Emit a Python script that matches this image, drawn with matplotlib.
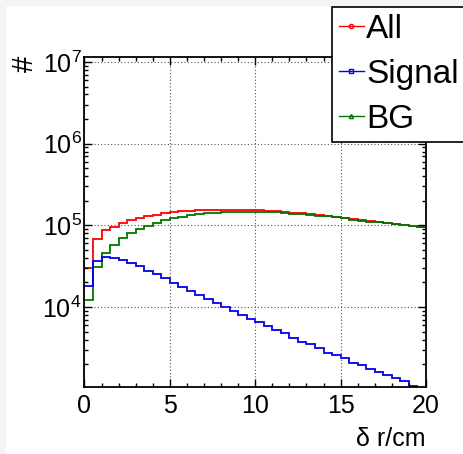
import numpy as np
import matplotlib
matplotlib.use('Agg')
import matplotlib.pyplot as plt
from matplotlib.ticker import LogLocator, MultipleLocator, NullFormatter
from matplotlib.patches import Rectangle

plt.rcParams['font.family'] = ['Liberation Sans', 'DejaVu Sans']
plt.rcParams['mathtext.fontset'] = 'custom'
plt.rcParams['mathtext.rm'] = 'Liberation Sans'

# 40 Bins zu 0.5 cm von 0 bis 20 cm
edges = np.linspace(0, 20, 41)

all_counts = [30300, 67600, 87100, 96400, 108000, 115500, 124300, 130400, 135300, 141900,
              144800, 149000, 151500, 152500, 153100, 154500, 154500, 154500, 154500, 154500,
              153100, 151400, 150000, 147100, 143100, 140700, 137900, 134100, 131400, 127800,
              124300, 119700, 116300, 113100, 110900, 107800, 104000, 101100, 98300, 96400]

signal_counts = [18100, 36900, 40600, 39500, 37700, 34400, 31800, 27900, 25200, 22500,
                 19900, 17400, 15800, 14000, 12400, 11100, 10100, 9020, 7980, 7060,
                 6610, 5850, 5220, 4760, 4130, 3760, 3490, 3120, 2750, 2580,
                 2350, 2070, 1950, 1770, 1610, 1470, 1370, 1240, 1090, 1010]

bg_counts = [12200, 30500, 46200, 57500, 70700, 81400, 90300, 98300, 108000, 116400,
             122200, 127900, 134000, 138000, 140500, 143000, 144200, 145300, 146300, 147200,
             146400, 145400, 144700, 142300, 139000, 137000, 134400, 131000, 128600, 125200,
             122000, 117600, 114300, 111300, 109300, 106300, 102600, 99900, 97200, 95400]

fig = plt.figure(figsize=(4.64, 4.54), dpi=100)
fig.patch.set_facecolor('white')
# grauer Rand links und oben
fig.patches.append(Rectangle((0, 0), 5 / 464, 1, transform=fig.transFigure,
                             color='#f4f4f4', zorder=-10))
fig.patches.append(Rectangle((0, 1 - 5 / 454), 1, 5 / 454, transform=fig.transFigure,
                             color='#f4f4f4', zorder=-10))

ax = fig.add_axes([84.5 / 464, 1 - 386.7 / 454, (426 - 84.5) / 464, (386.7 - 57.3) / 454])

ax.stairs(all_counts, edges, baseline=None, color='#ff0000', linewidth=1.3)
ax.stairs(bg_counts, edges, baseline=None, color='#007700', linewidth=1.3)
ax.stairs(signal_counts, edges, baseline=None, color='#0000ee', linewidth=1.3)

ax.set_yscale('log')
ax.set_xlim(0, 20)
ax.set_ylim(1.06e3, 1.14e7)

ax.xaxis.set_major_locator(MultipleLocator(5))
ax.xaxis.set_minor_locator(MultipleLocator(1))
ax.yaxis.set_major_locator(LogLocator(base=10, numticks=10))
ax.yaxis.set_minor_locator(LogLocator(base=10, subs=np.arange(2, 10), numticks=20))
ax.yaxis.set_minor_formatter(NullFormatter())

ax.tick_params(which='both', direction='in', top=True, right=True, labelsize=18, width=1)
ax.tick_params(which='major', length=6)
ax.tick_params(which='minor', length=3)
ax.tick_params(axis='x', pad=5)
ax.tick_params(axis='y', pad=2)
for s in ax.spines.values():
    s.set_linewidth(1.3)

ax.grid(True, which='major', color='#555555', linestyle=(0, (1, 2)), linewidth=0.8)

fig.text(25 / 464, 1 - 64 / 454, '#', fontsize=21, rotation=90, ha='center', va='center')
fig.text(426 / 464, 1 - 439 / 454, 'δ r/cm', fontsize=18, ha='right', va='center')

handles = [
    plt.Line2D([], [], color='#ff0000', marker='o', markersize=3, markerfacecolor='none', lw=1),
    plt.Line2D([], [], color='#0000ee', marker='s', markersize=3, markerfacecolor='none', lw=1),
    plt.Line2D([], [], color='#007700', marker='^', markersize=3, markerfacecolor='none', lw=1),
]
leg = fig.legend(handles, ['All', 'Signal', 'BG'], loc='upper left',
                 bbox_to_anchor=(332 / 464, 1 - 7.3 / 454), borderaxespad=0,
                 fontsize=24, handlelength=0.75, handletextpad=0.08, labelspacing=0.42,
                 borderpad=0.2, fancybox=False, framealpha=1, edgecolor='black')
leg.get_frame().set_linewidth(1.2)

plt.savefig('out.png', dpi=100)
plt.close()
